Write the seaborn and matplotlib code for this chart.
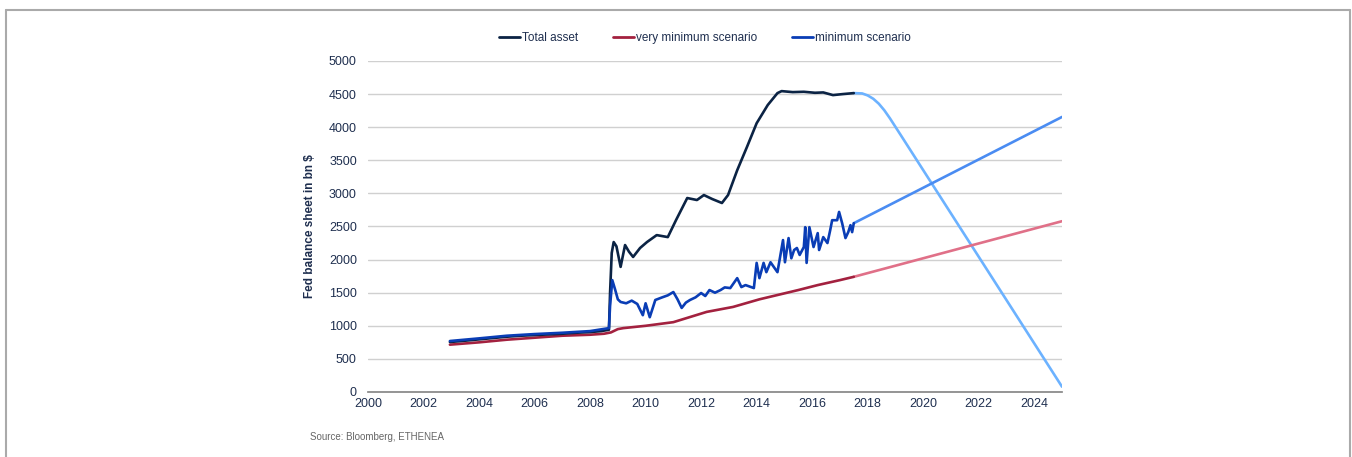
import matplotlib
matplotlib.use("Agg")
import matplotlib.pyplot as plt
from matplotlib.lines import Line2D
import seaborn as sns

# ---------------------------------------------------------------------------
# Data (year, bn $)
# ---------------------------------------------------------------------------
total_years = [2002.95, 2003.5, 2004.0, 2004.5, 2005.0, 2005.5, 2006.0, 2006.5, 2007.0,
               2007.5, 2008.0, 2008.4, 2008.68, 2008.72, 2008.78, 2008.85, 2008.95, 2009.1,
               2009.26, 2009.4, 2009.55, 2009.8, 2010.05, 2010.4, 2010.8, 2011.1, 2011.5,
               2011.85, 2012.1, 2012.4, 2012.75, 2012.97, 2013.3, 2013.65, 2014.0, 2014.4,
               2014.75, 2014.9, 2015.3, 2015.7, 2016.1, 2016.4, 2016.75, 2017.1, 2017.5]
total_vals = [755, 775, 795, 815, 835, 850, 860, 870, 880,
              895, 905, 920, 940, 1500, 2100, 2265, 2200, 1890,
              2220, 2120, 2040, 2175, 2265, 2370, 2340, 2600, 2930,
              2900, 2975, 2915, 2855, 2975, 3350, 3700, 4060, 4335,
              4515, 4545, 4530, 4535, 4520, 4525, 4485, 4500, 4515]

min_years = [2002.95, 2004.0, 2005.0, 2006.0, 2007.0, 2008.0, 2008.68, 2008.72, 2008.8,
             2008.9, 2009.0, 2009.1, 2009.3, 2009.5, 2009.7, 2009.9, 2010.0, 2010.15,
             2010.35, 2010.6, 2010.8, 2011.0, 2011.15, 2011.3, 2011.45, 2011.6, 2011.8,
             2012.0, 2012.15, 2012.3, 2012.5, 2012.7, 2012.85, 2013.05, 2013.3, 2013.45,
             2013.6, 2013.9, 2014.0, 2014.1, 2014.25, 2014.35, 2014.5, 2014.75, 2014.95,
             2015.02, 2015.15, 2015.25, 2015.35, 2015.45, 2015.55, 2015.7, 2015.75, 2015.8,
             2015.9, 2016.05, 2016.2, 2016.25, 2016.4, 2016.55, 2016.65, 2016.72, 2016.9,
             2016.97, 2017.08, 2017.2, 2017.3, 2017.38, 2017.44, 2017.5]
min_vals = [770, 810, 850, 875, 895, 920, 965, 1300, 1690,
            1550, 1400, 1360, 1340, 1380, 1330, 1160, 1340, 1130,
            1390, 1430, 1460, 1510, 1400, 1270, 1350, 1390, 1430,
            1495, 1450, 1540, 1500, 1540, 1580, 1570, 1720, 1585,
            1615, 1570, 1950, 1720, 1950, 1810, 1960, 1810, 2295,
            1960, 2325, 2020, 2145, 2175, 2070, 2190, 2490, 1950,
            2490, 2190, 2400, 2145, 2340, 2250, 2445, 2595, 2595,
            2720, 2550, 2325, 2415, 2520, 2415, 2550]

vmin_years = [2002.95, 2004.0, 2005.0, 2006.0, 2007.0, 2008.0, 2008.5, 2008.75, 2009.0,
              2009.2, 2010.0, 2011.0, 2012.2, 2013.15, 2014.1, 2014.6, 2015.5, 2016.2,
              2017.0, 2017.5]
vmin_vals = [715, 750, 790, 820, 850, 865, 880, 900, 950,
             965, 1000, 1055, 1210, 1285, 1400, 1450, 1540, 1615,
             1690, 1740]

# projections after mid 2017
total_proj_years = [2017.5, 2017.8, 2018.0, 2018.2, 2018.4, 2018.6, 2018.8, 2019.0, 2019.2, 2025.0]
total_proj_vals = [4515, 4510, 4480, 4430, 4355, 4255, 4135, 4005, 3875, 80]
min_proj_years = [2017.5, 2025.0]
min_proj_vals = [2550, 4155]
vmin_proj_years = [2017.5, 2025.0]
vmin_proj_vals = [1740, 2580]

labels = ["Total asset", "very minimum scenario", "minimum scenario"]
x_ticks = list(range(2000, 2025, 2))
y_ticks = list(range(0, 5001, 500))

# ---------------------------------------------------------------------------
# Style
# ---------------------------------------------------------------------------
sns.set_theme(style="white")
plt.rcParams["font.family"] = ["Liberation Sans", "DejaVu Sans"]
txt = "#1f2f4f"

c_total, c_vmin, c_min = "#0b2344", "#a3213f", "#0a3db5"
c_total_p, c_vmin_p, c_min_p = "#6cb2ff", "#e07088", "#4a8cf2"
lw = 1.9

fig = plt.figure(figsize=(13.52, 4.57), dpi=100)
ax = fig.add_axes([368 / 1352, 1 - 392 / 457, 694 / 1352, 331 / 457])

for xs, ys, col in [(total_proj_years, total_proj_vals, c_total_p),
                    (min_proj_years, min_proj_vals, c_min_p),
                    (vmin_proj_years, vmin_proj_vals, c_vmin_p)]:
    sns.lineplot(x=xs, y=ys, ax=ax, color=col, lw=lw, estimator=None, sort=False)

sns.lineplot(x=vmin_years, y=vmin_vals, ax=ax, color=c_vmin, lw=lw, estimator=None, sort=False)
sns.lineplot(x=total_years, y=total_vals, ax=ax, color=c_total, lw=lw, estimator=None, sort=False)
sns.lineplot(x=min_years, y=min_vals, ax=ax, color=c_min, lw=lw, estimator=None, sort=False)

ax.set_xlim(2000, 2025)
ax.set_ylim(0, 5000)
ax.set_xticks(x_ticks)
ax.set_yticks(y_ticks)
ax.tick_params(axis="x", colors="#888888", length=3, width=1, labelcolor=txt, labelsize=9, pad=1)
ax.tick_params(axis="y", length=0, labelcolor=txt, labelsize=9, pad=8)
ax.grid(axis="y", color="#d0d0d0", lw=1)
ax.set_axisbelow(True)
for s in ["left", "right", "top"]:
    ax.spines[s].set_visible(False)
ax.spines["bottom"].set_color("#888888")
ax.set_xlabel("")
ax.set_ylabel("Fed balance sheet in bn $", color=txt, fontsize=8.5, fontweight="bold", labelpad=9)

handles = [Line2D([], [], color=c, lw=2) for c in (c_total, c_vmin, c_min)]
fig.legend(handles, labels, loc="center", bbox_to_anchor=(705 / 1352, 1 - 38 / 457),
           ncol=3, frameon=False, fontsize=8.5, handlelength=1.8, handletextpad=0.2,
           columnspacing=2.9, labelcolor=txt)

fig.text(310 / 1352, 1 - 437 / 457, "Source: Bloomberg, ETHENEA", color="#666666",
         fontsize=7, va="center")

# page frame (left, top, right)
frame = dict(color="#aaaaaa", lw=1.5, transform=fig.transFigure)
fig.add_artist(Line2D([6 / 1352, 6 / 1352], [0, 1 - 10 / 457], **frame))
fig.add_artist(Line2D([6 / 1352, 1350 / 1352], [1 - 10 / 457, 1 - 10 / 457], **frame))
fig.add_artist(Line2D([1350 / 1352, 1350 / 1352], [0, 1 - 10 / 457], **frame))

fig.savefig("out.png", dpi=100)
plt.close(fig)
